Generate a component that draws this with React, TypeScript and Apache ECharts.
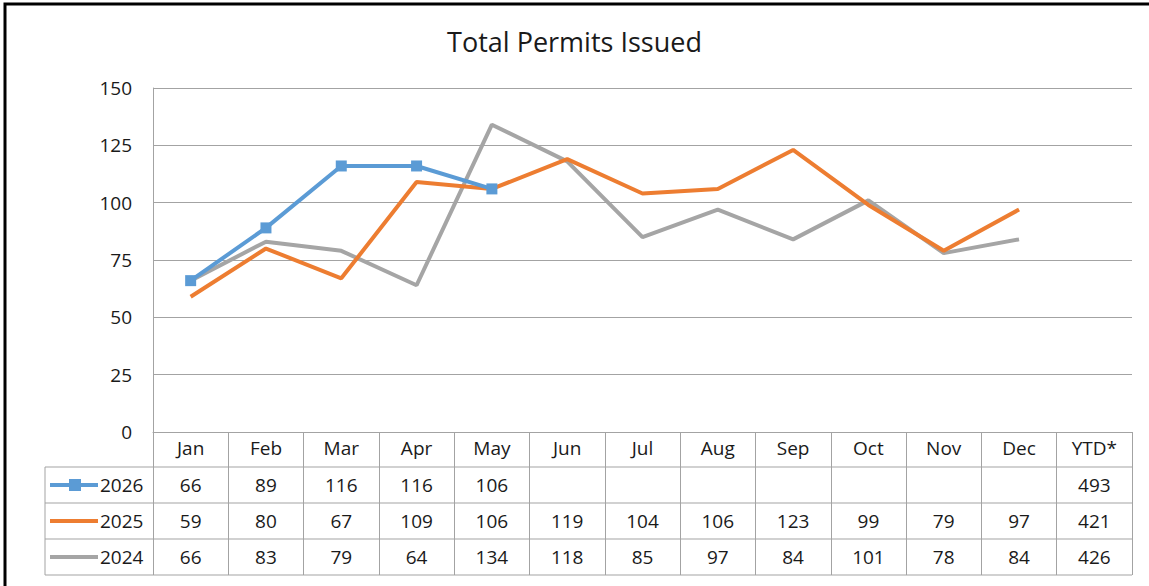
import React, { useEffect, useRef } from "react";
import * as echarts from "echarts";

const categories = ["Jan", "Feb", "Mar", "Apr", "May", "Jun", "Jul", "Aug", "Sep", "Oct", "Nov", "Dec", "YTD*"];
const seriesNames = ["2026", "2025", "2024"];
const values2026 = [66, 89, 116, 116, 106];
const values2025 = [59, 80, 67, 109, 106, 119, 104, 106, 123, 99, 79, 97];
const values2024 = [66, 83, 79, 64, 134, 118, 85, 97, 84, 101, 78, 84];
const ytdTotals = [493, 421, 426];
const yTicks = { min: 0, max: 150, interval: 25 };

const colors = ["#5B9BD5", "#ED7D31", "#A5A5A5"];
const FONT = '"Open Sans", "Noto Sans", sans-serif';
const TEXT = "#1a1a1a";
const GRID = "#a3a3a3";

export default function App() {
  const ref = useRef<HTMLDivElement>(null);

  useEffect(() => {
    document.body.style.margin = "0";
    const chart = echarts.init(ref.current!, null, { renderer: "svg" });
    const headerH = 35;
    const rowH = 36;
    const tickLen = headerH + rowH * 3;
    const allSeries = [values2026, values2025, values2024];

    chart.setOption({
      animation: false,
      backgroundColor: "#ffffff",
      textStyle: { fontFamily: FONT },
      title: {
        text: "Total Permits Issued",
        left: "center",
        top: 23,
        textStyle: { fontFamily: FONT, fontSize: 27, fontWeight: "normal", color: TEXT },
      },
      grid: { left: 153, right: 17, top: 88, bottom: 154 },
      xAxis: {
        type: "category",
        data: categories,
        boundaryGap: true,
        axisLine: { show: true, lineStyle: { color: GRID, width: 1 } },
        axisTick: { show: true, length: tickLen, interval: 0, lineStyle: { color: GRID, width: 1 } },
        axisLabel: {
          interval: 0,
          margin: 16,
          verticalAlign: "middle",
          fontFamily: FONT,
          fontSize: 19,
          color: TEXT,
        },
      },
      yAxis: {
        type: "value",
        min: yTicks.min,
        max: yTicks.max,
        interval: yTicks.interval,
        axisLine: { show: true, lineStyle: { color: GRID, width: 1 } },
        axisTick: { show: false },
        splitLine: { show: true, lineStyle: { color: GRID, width: 1 } },
        axisLabel: { margin: 21, fontFamily: FONT, fontSize: 19, color: TEXT },
      },
      series: [
        {
          name: seriesNames[2],
          type: "line",
          data: values2024,
          symbol: "none",
          lineStyle: { color: colors[2], width: 4 },
          z: 2,
        },
        {
          name: seriesNames[1],
          type: "line",
          data: values2025,
          symbol: "none",
          lineStyle: { color: colors[1], width: 4 },
          z: 3,
        },
        {
          name: seriesNames[0],
          type: "line",
          data: values2026,
          symbol: "rect",
          symbolSize: 11,
          itemStyle: { color: colors[0] },
          lineStyle: { color: colors[0], width: 4 },
          z: 4,
        },
      ],
    });

    const axisY = chart.convertToPixel({ yAxisIndex: 0 }, 0) as number;
    const x0 = chart.convertToPixel({ xAxisIndex: 0 }, 0) as number;
    const x1 = chart.convertToPixel({ xAxisIndex: 0 }, 1) as number;
    const colW = x1 - x0;
    const lastX = chart.convertToPixel({ xAxisIndex: 0 }, categories.length - 1) as number;
    const rightX = lastX + colW / 2;
    const tableLeft = 45;
    const elements: any[] = [];

    // frame
    elements.push({
      type: "polyline",
      shape: { points: [[5, 586], [5, 4], [1149, 4]] },
      style: { stroke: "#000", lineWidth: 3, fill: null },
      silent: true,
    });

    // table horizontal lines
    for (let r = 0; r <= 3; r++) {
      const y = axisY + headerH + r * rowH;
      elements.push({
        type: "line",
        shape: { x1: tableLeft, y1: y, x2: rightX, y2: y },
        style: { stroke: GRID, lineWidth: 1 },
        silent: true,
      });
    }
    elements.push({
      type: "line",
      shape: { x1: tableLeft, y1: axisY + headerH, x2: tableLeft, y2: axisY + headerH + 3 * rowH },
      style: { stroke: GRID, lineWidth: 1 },
      silent: true,
    });

    allSeries.forEach((vals, r) => {
      const cy = axisY + headerH + r * rowH + rowH / 2;
      // legend key
      elements.push({
        type: "line",
        shape: { x1: 50, y1: cy, x2: 98, y2: cy },
        style: { stroke: colors[r], lineWidth: 4 },
        silent: true,
      });
      if (r === 0) {
        elements.push({
          type: "rect",
          shape: { x: 75 - 6, y: cy - 6, width: 12, height: 12 },
          style: { fill: colors[0] },
          silent: true,
        });
      }
      elements.push({
        type: "text",
        x: 100,
        y: cy,
        style: {
          text: seriesNames[r],
          align: "left",
          verticalAlign: "middle",
          fontFamily: FONT,
          fontSize: 19,
          fill: TEXT,
        },
        silent: true,
      });
      const cells = vals.map((v) => String(v));
      for (let i = 0; i < categories.length; i++) {
        let t = "";
        if (i === categories.length - 1) t = String(ytdTotals[r]);
        else if (i < cells.length) t = cells[i];
        if (!t) continue;
        const cx = chart.convertToPixel({ xAxisIndex: 0 }, i) as number;
        elements.push({
          type: "text",
          x: cx,
          y: cy,
          style: {
            text: t,
            align: "center",
            verticalAlign: "middle",
            fontFamily: FONT,
            fontSize: 19,
            fill: TEXT,
          },
          silent: true,
        });
      }
    });

    chart.setOption({ graphic: elements });
    return () => chart.dispose();
  }, []);

  return <div ref={ref} style={{ width: 1149, height: 586 }} />;
}
